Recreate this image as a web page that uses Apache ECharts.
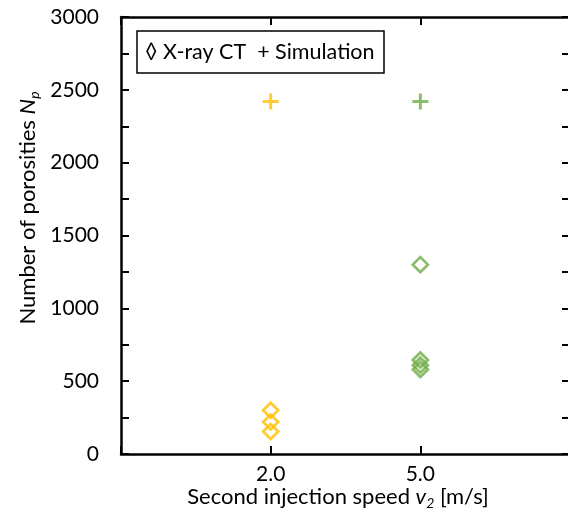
<!DOCTYPE html>
<html>
<head>
<meta charset="utf-8">
<script src="https://cdn.jsdelivr.net/npm/echarts@6/dist/echarts.min.js"></script>
<style>
  html, body { margin: 0; padding: 0; background: #fff; }
  #chart { width: 568px; height: 515px; }
</style>
</head>
<body>
<div id="chart"></div>
<script>
  // positions on the x axis (1 -> 2.0 m/s, 2 -> 5.0 m/s)
  var speedLabels = ['', '2.0', '5.0', ''];
  var yTicks = [0, 500, 1000, 1500, 2000, 2500, 3000];

  // X-ray CT measurements
  var ctSlow = [300, 220, 155];
  var ctFast = [1300, 645, 610, 580];
  // simulation
  var simSlow = [2420];
  var simFast = [2420];

  var yellow = '#FFC000';
  var green = '#70AD47';
  var font = 'Lato, "Open Sans", sans-serif';
  var plus = 'path://M6.5,0H9.5V6.5H16V9.5H9.5V16H6.5V9.5H0V6.5H6.5Z';

  function pts(x, vals) {
    return vals.map(function (v) { return [x, v]; });
  }

  var myChart = echarts.init(document.getElementById('chart'));

  var axisLine = { show: true, onZero: false, lineStyle: { color: '#000', width: 2.5 } };
  var tick = { show: true, inside: true, length: 8, lineStyle: { color: '#000', width: 2 } };
  var minor = { show: true, splitNumber: 2, length: 8, lineStyle: { color: '#000', width: 2 } };

  var titleRich = {
    n: { fontSize: 22, fontFamily: font, fill: '#000' },
    i: { fontSize: 22, fontFamily: font, fontStyle: 'italic', fill: '#000' },
    s: { fontSize: 14, fontFamily: font, fontStyle: 'italic', fill: '#000', padding: [12, 0, 0, 0] }
  };

  myChart.setOption({
    animation: false,
    grid: { left: 121, top: 17, bottom: 61, right: -2, outerBoundsMode: 'none', containLabel: false },
    xAxis: [{
      type: 'value', min: 0, max: 3, interval: 1,
      axisLine: axisLine, axisTick: tick, splitLine: { show: false },
      axisLabel: {
        margin: 10, color: '#000', fontSize: 21, fontFamily: font,
        formatter: function (v) { return speedLabels[v] || ''; }
      }
    }, {
      type: 'value', min: 0, max: 3, interval: 1, position: 'top',
      axisLine: axisLine, axisTick: tick, splitLine: { show: false },
      axisLabel: { show: false }
    }],
    yAxis: [{
      type: 'value', min: yTicks[0], max: yTicks[yTicks.length - 1], interval: 500,
      axisLine: axisLine, axisTick: tick, minorTick: minor, splitLine: { show: false },
      axisLabel: {
        margin: 22, color: '#000', fontSize: 21, fontFamily: font,
        formatter: function (v) { return String(v); }
      }
    }, {
      type: 'value', min: yTicks[0], max: yTicks[yTicks.length - 1], interval: 500, position: 'right',
      axisLine: axisLine, axisTick: tick, minorTick: minor, splitLine: { show: false },
      axisLabel: { show: false }
    }],
    series: [
      {
        type: 'scatter', data: pts(1, ctSlow), symbol: 'diamond', symbolSize: 15,
        itemStyle: { color: 'rgba(255,255,255,0)', borderColor: yellow, borderWidth: 2.8 }
      },
      {
        type: 'scatter', data: pts(2, ctFast), symbol: 'diamond', symbolSize: 15,
        itemStyle: { color: 'rgba(255,255,255,0)', borderColor: green, borderWidth: 2.8 }
      },
      {
        type: 'scatter', data: pts(1, simSlow), symbol: plus, symbolSize: 16,
        itemStyle: { color: yellow }
      },
      {
        type: 'scatter', data: pts(2, simFast), symbol: plus, symbolSize: 16,
        itemStyle: { color: green }
      }
    ],
    graphic: [
      {
        type: 'rect', shape: { x: 137, y: 31, width: 247, height: 42 },
        style: { fill: '#fff', stroke: '#000', lineWidth: 1.5 }, z: 100
      },
      {
        type: 'text', x: 145, y: 52, z: 101,
        style: { text: '\u25CA X-ray CT  + Simulation', fill: '#000', font: '21.5px ' + font, verticalAlign: 'middle' }
      },
      {
        type: 'text', x: 338, y: 497, z: 101,
        style: { text: '{n|Second injection speed }{i|v}{s|2}{n| [m/s]}', align: 'center', verticalAlign: 'middle', rich: titleRich }
      },
      {
        type: 'text', x: 28, y: 208, rotation: Math.PI / 2, z: 101,
        style: { text: '{n|Number of porosities }{i|N}{s|p}', align: 'center', verticalAlign: 'middle', rich: titleRich }
      }
    ]
  });
</script>
</body>
</html>
